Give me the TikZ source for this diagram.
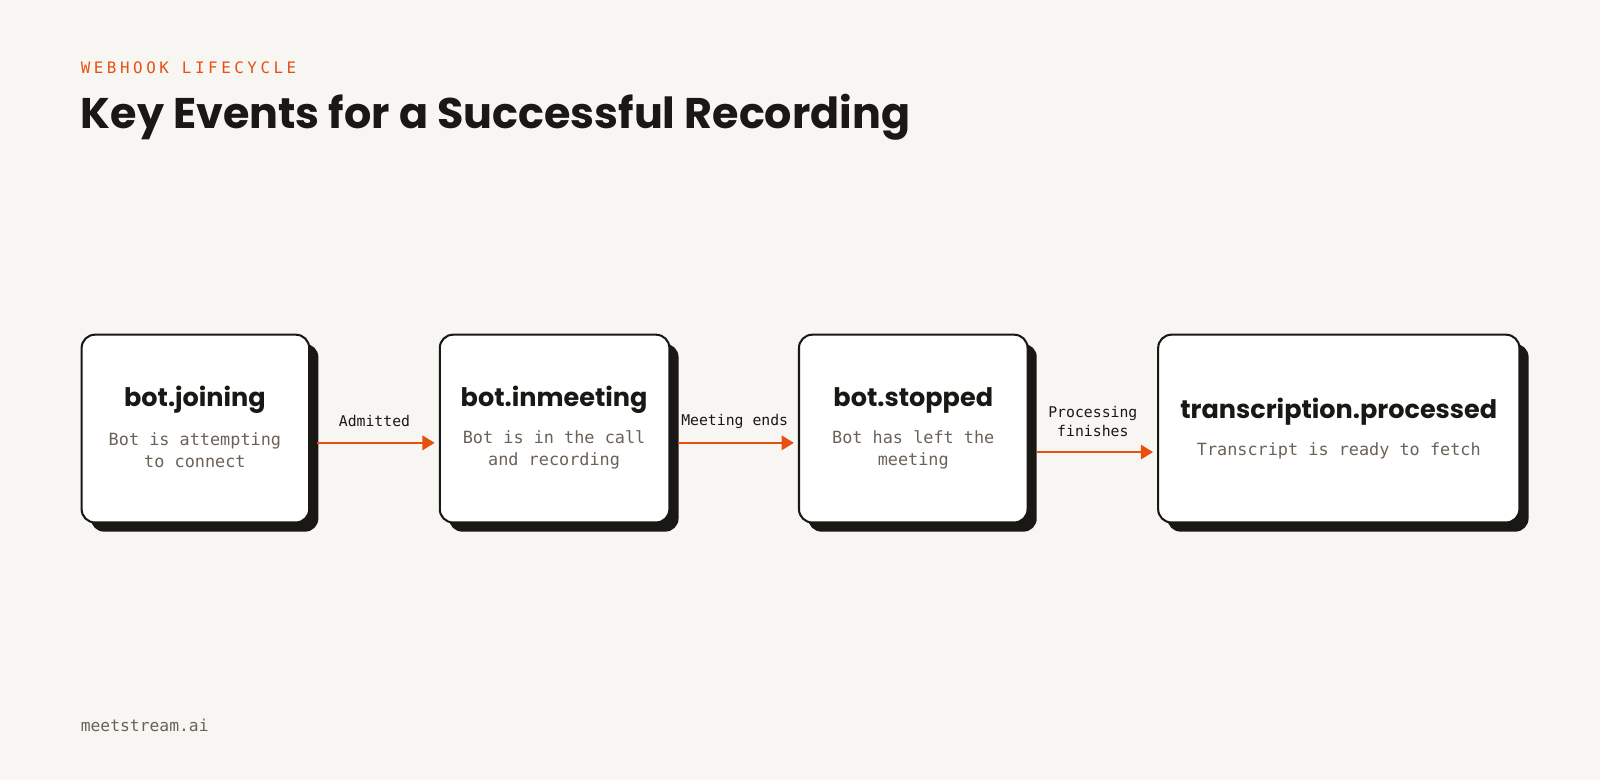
\documentclass[tikz,border=0pt]{standalone}
\usepackage{fontspec}
\usetikzlibrary{arrows.meta}
\setmainfont{Poppins}
\newfontfamily\monof{DejaVu Sans Mono}
\newfontfamily\headf{Poppins}
\definecolor{bg}{HTML}{F7F6F3}
\definecolor{org}{HTML}{E8500F}
\definecolor{gr}{HTML}{6B6257}
\definecolor{ink}{HTML}{1A1814}
\begin{document}
\begin{tikzpicture}[x=1pt,y=-1pt,
  box/.style={draw=ink,line width=2pt,fill=white,rounded corners=13pt},
  shadow/.style={fill=ink,rounded corners=13pt},
  ttl/.style={font=\fontsize{25}{30}\selectfont\bfseries,text=ink,anchor=center},
  sub/.style={font=\monof\fontsize{16.5}{22}\selectfont,text=gr,align=center,anchor=center},
  lab/.style={font=\monof\fontsize{14.5}{18}\selectfont,text=ink,align=center,anchor=center},
  arr/.style={draw=org,line width=2.5pt,-{Triangle[length=12pt,width=14pt]}}]
\fill[bg] (0,0) rectangle (1568,764);
\useasboundingbox (0,0) rectangle (1568,764);
\node[anchor=west,font=\monof\fontsize{15.5}{18}\selectfont,text=org,inner sep=0] (hd) at (79,66) {W\kern3.5pt E\kern3.5pt B\kern3.5pt H\kern3.5pt O\kern3.5pt O\kern3.5pt K\kern3.5pt\ L\kern3.5pt I\kern3.5pt F\kern3.5pt E\kern3.5pt C\kern3.5pt Y\kern3.5pt C\kern3.5pt L\kern3.5pt E};
\node[anchor=west,font=\headf\fontsize{42}{48}\selectfont\bfseries,text=ink,inner sep=0] (tt) at (79,115) {Key Events for a Successful Recording};
\node[anchor=west,font=\monof\fontsize{16}{18}\selectfont,text=gr,inner sep=0] (ft) at (79,711) {meetstream.ai};
% boxes
\foreach \n/\a/\b in {b1/80/303,b2/431/656,b3/783/1007,b4/1135/1489}{
  \fill[shadow] (\a+9,337) rectangle (\b+9,521);
  \draw[box] (\a,328) rectangle (\b,512);
  \coordinate (\n) at ({(\a+\b)/2},420);
}
\node[ttl] (t1) at (191,392) {bot.joining};
\node[sub] (s1) at (191,441) {Bot is attempting\\to connect};
\node[ttl] (t2) at (543,392) {bot.inmeeting};
\node[sub] (s2) at (543,441) {Bot is in the call\\and recording};
\node[ttl] (t3) at (895,392) {bot.stopped};
\node[sub] (s3) at (895,441) {Bot has left the\\meeting};
\node[ttl] (t4) at (1312,403) {transcription.processed};
\node[sub] (s4) at (1312,442) {Transcript is ready to fetch};
\coordinate (a1s) at (311,434); \coordinate (a1e) at (426,434);
\coordinate (a2s) at (664,434); \coordinate (a2e) at (778,434);
\coordinate (a3s) at (1016,443); \coordinate (a3e) at (1130,443);
\draw[arr] (a1s) -- (a1e);
\draw[arr] (a2s) -- (a2e);
\draw[arr] (a3s) -- (a3e);
\node[lab] (l1) at (367,413) {Admitted};
\node[lab] (l2) at (720,413) {Meeting ends};
\node[lab] (l3) at (1071,413) {Processing\\finishes};
\end{tikzpicture}
\end{document}
